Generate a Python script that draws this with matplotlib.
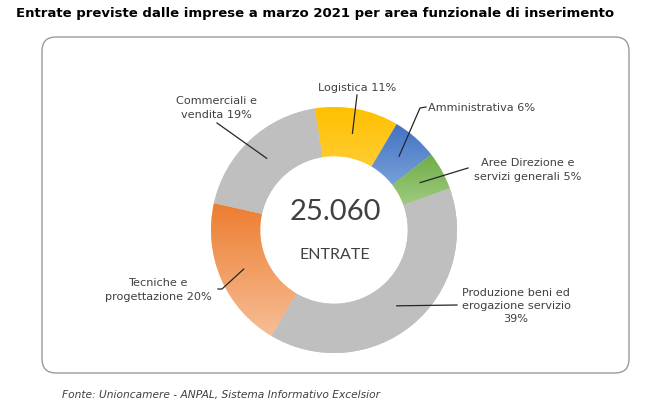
import matplotlib
matplotlib.use("Agg")
import matplotlib.pyplot as plt
import matplotlib.patches as mpatches
import numpy as np
from matplotlib.colors import LinearSegmentedColormap

# data
aree = ["Logistica", "Amministrativa", "Aree Direzione e\nservizi generali",
        "Produzione beni ed\nerogazione servizio\n", "Tecniche e\nprogettazione",
        "Commerciali e\nvendita"]
quote = [11, 6, 5, 39, 20, 19]
totale = "25.060"

# colours: (top, bottom) of each slice gradient
colori = [("#FFC000", "#FFD966"), ("#4472C4", "#9DC3E6"), ("#70AD47", "#B5D99C"),
          ("#BFBFBF", "#BFBFBF"), ("#ED7D31", "#F6BE95"), ("#BFBFBF", "#BFBFBF")]

# label layout in pixels (x, y from top, ha, leader start, optional knee)
layout = [
    ((357, 88), "center", (357, 95), None),
    ((428, 108), "left", (426, 107), (420, 108)),
    ((528, 170), "center", (468, 168), None),
    ((516, 306), "center", (457, 305), None),
    ((158, 290), "center", (218, 289), (222, 289)),
    ((216, 108), "center", (217, 123), None),
]

W, H = 653, 411
cx, cy, R = 334, 230, 123

fig = plt.figure(figsize=(W / 100, H / 100), dpi=100)
ax = fig.add_axes([0, 0, 1, 1])
ax.axis("off")

def py(y):
    return H - y

wedges, _ = ax.pie(quote, startangle=99, counterclock=False, radius=R,
                   center=(cx, py(cy)),
                   wedgeprops=dict(width=0.4 * R, edgecolor="none"))
ax.set_aspect("auto")

# gradient fill for each slice
for w, (c1, c2) in zip(wedges, colori):
    w.set_facecolor(c2)
    verts = w.get_path().vertices
    x0, x1 = verts[:, 0].min(), verts[:, 0].max()
    y0, y1 = verts[:, 1].min(), verts[:, 1].max()
    cmap = LinearSegmentedColormap.from_list("g", [c2, c1])
    grad = np.linspace(0, 1, 100).reshape(-1, 1)
    im = ax.imshow(grad, cmap=cmap, extent=(x0, x1, y0, y1), origin="lower",
                   aspect="auto", zorder=2)
    im.set_clip_path(w)

ax.set_xlim(0, W)
ax.set_ylim(0, H)

# labels and leader lines
ang0 = 99.0
tot = sum(quote)
for i, (nome, q) in enumerate(zip(aree, quote)):
    start = ang0 - 360.0 * sum(quote[:i]) / tot
    mid = np.deg2rad(start - 180.0 * q / tot)
    ex = cx + 0.8 * R * np.cos(mid)
    ey = py(cy) + 0.8 * R * np.sin(mid)
    (tx, ty), ha, (sx, sy), knee = layout[i]
    testo = nome + f"{q}%" if nome.endswith("\n") else f"{nome} {q}%"
    ax.text(tx, py(ty), testo, ha=ha, va="center", fontsize=8.1,
            color="#404040", linespacing=1.4, zorder=5)
    xs, ys = [sx], [py(sy)]
    if knee:
        xs.append(knee[0])
        ys.append(py(knee[1]))
    xs.append(ex)
    ys.append(ey)
    ax.plot(xs, ys, color="#262626", lw=0.9, zorder=4)

ax.text(cx + 1, py(212), totale, ha="center", va="center", fontsize=21,
        family="Lato", color="#404040", zorder=5)
ax.text(cx + 1, py(255), "ENTRATE", ha="center", va="center", fontsize=11.5,
        family="Lato", color="#404040", zorder=5)

# frame
box = mpatches.FancyBboxPatch((42 + 14, py(373) + 14), 629 - 42 - 28, 373 - 37 - 28,
                              boxstyle="round,pad=14", fc="none", ec="#9a9a9a",
                              lw=1.0, zorder=1)
ax.add_patch(box)

fig.text(16 / W, 1 - 13 / H, "Entrate previste dalle imprese a marzo 2021 per area funzionale di inserimento",
         ha="left", va="center", fontsize=9.5, fontweight="bold", color="black")
fig.text(62 / W, 1 - 395 / H, "Fonte: Unioncamere - ANPAL, Sistema Informativo Excelsior",
         ha="left", va="center", fontsize=7.7, style="italic", color="#404040")

fig.savefig("out.png", dpi=100)
